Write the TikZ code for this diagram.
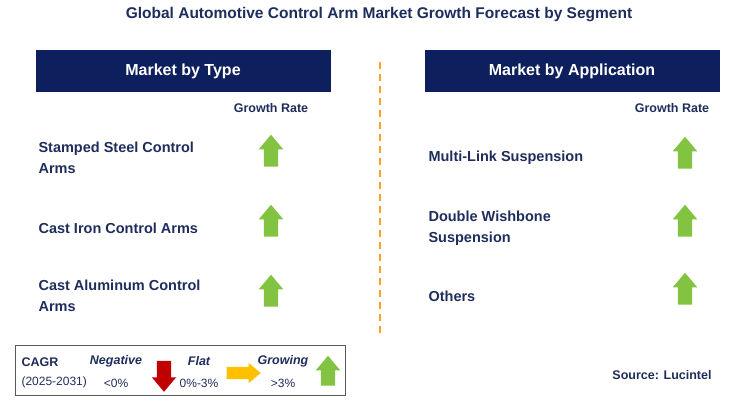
\documentclass[tikz,border=0pt]{standalone}
\usepackage{fontspec}
\setmainfont{Liberation Sans}
\usetikzlibrary{shapes.arrows}
\definecolor{navy}{HTML}{0D1F5C}
\definecolor{ink}{HTML}{1F2D5C}
\definecolor{upgreen}{HTML}{82C341}
\definecolor{dnred}{HTML}{C00000}
\definecolor{flatyel}{HTML}{FFC000}
\definecolor{dashorange}{HTML}{F5A623}
\tikzset{
  head/.style={fill=navy, minimum width=295pt, minimum height=42pt, text=white, font=\bfseries\fontsize{16}{18}\selectfont},
  item/.style={anchor=west, align=left, text=ink, font=\bfseries\fontsize{14.5}{21}\selectfont},
  small/.style={text=ink, font=\bfseries\fontsize{12.5}{14}\selectfont},
  arrowicon/.style={single arrow, minimum height=32pt, single arrow head extend=5pt, single arrow tip angle=80, inner sep=7pt},
  uparrow/.style={arrowicon, fill=upgreen, rotate=90},
  legtxt/.style={text=ink, font=\fontsize{12}{14}\selectfont},
  legit/.style={text=ink, font=\bfseries\itshape\fontsize{12.5}{14}\selectfont},
}
\begin{document}
\begin{tikzpicture}[x=1pt,y=-1pt]
 \useasboundingbox (0,0) rectangle (738,413);

 % title
 \node[text=ink, font=\bfseries\fontsize{15.5}{18}\selectfont] (title) at (379,15) {Global Automotive Control Arm Market Growth Forecast by Segment};

 % headers
 \node[head] (htype) at (183,71) {Market by Type};
 \node[head] (happ) at (572,71) {Market by Application};
 \draw[dashorange, dash pattern=on 7pt off 5pt, line width=1.2pt] (380,62) -- (380,335);

 \node[small] (grl) at (271,108) {Growth Rate};
 \node[small] (grr) at (672,108) {Growth Rate};

 % left column
 \node[item] (t1) at (35,158) {Stamped Steel Control\\Arms};
 \node[item] (t2) at (35,228) {Cast Iron Control Arms};
 \node[item] (t3) at (35,296) {Cast Aluminum Control\\Arms};
 \node[uparrow] (a1) at (271,155) {};
 \node[uparrow] (a2) at (271,225) {};
 \node[uparrow] (a3) at (271,295) {};

 % right column
 \node[item] (r1) at (425,158) {Multi-Link Suspension};
 \node[item] (r2) at (425,228) {Double Wishbone\\Suspension};
 \node[item] (r3) at (425,296) {Others};
 \node[uparrow] (b1) at (685,157) {};
 \node[uparrow] (b2) at (685,225) {};
 \node[uparrow] (b3) at (685,293) {};

 % legend
 \draw[gray!70!black, line width=0.8pt] (15,345) rectangle (345,395);
 \node[small, anchor=west] (cagr) at (18,362) {CAGR};
 \node[legtxt, anchor=west] (yrs) at (18,382) {(2025-2031)};
 \node[legit] (neg) at (116,361) {Negative};
 \node[legtxt] (negv) at (116,383) {<0\%};
 \node[arrowicon, fill=dnred, rotate=-90, minimum height=31pt] (down) at (164,372) {};
 \node[legit] (flat) at (199,361) {Flat};
 \node[legtxt] (flatv) at (199,383) {0\%-3\%};
 \node[arrowicon, fill=flatyel, minimum height=34pt, inner sep=6pt, single arrow head extend=4pt] (right) at (240,373) {};
 \node[legit] (grow) at (283,361) {Growing};
 \node[legtxt] (growv) at (283,383) {>3\%};
 \node[uparrow, minimum height=30pt] (up) at (328,375) {};

 \node[small] (src) at (662,375) {Source: Lucintel};
\end{tikzpicture}
\end{document}
